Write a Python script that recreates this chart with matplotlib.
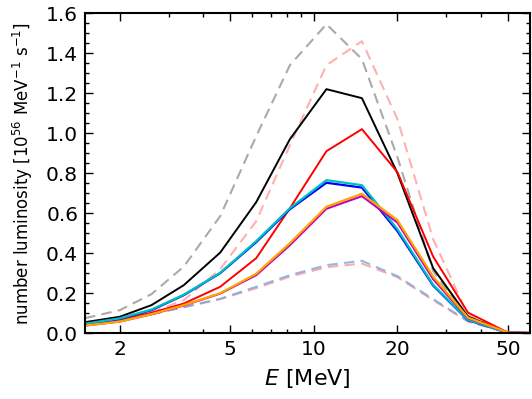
import matplotlib
matplotlib.use('Agg')
import matplotlib.pyplot as plt
import matplotlib.ticker as mticker

# energy grid [MeV] and number luminosities [1e56 /MeV/s]
energy = [1.5, 2.0, 2.6, 3.4, 4.6, 6.2, 8.2, 11.1, 14.9, 20.0, 26.9, 35.9, 50.0, 66.0]

lum_black = [0.055, 0.082, 0.14, 0.24, 0.403, 0.655, 0.97, 1.22, 1.175, 0.80, 0.325, 0.083, 0.003, 0.0]
lum_red = [0.045, 0.068, 0.102, 0.148, 0.232, 0.375, 0.625, 0.91, 1.02, 0.805, 0.383, 0.103, 0.003, 0.0]
lum_blue = [0.045, 0.072, 0.115, 0.19, 0.30, 0.455, 0.62, 0.752, 0.728, 0.51, 0.238, 0.065, 0.002, 0.0]
lum_cyan = [0.047, 0.074, 0.118, 0.192, 0.302, 0.46, 0.625, 0.765, 0.74, 0.52, 0.242, 0.067, 0.002, 0.0]
lum_orange = [0.038, 0.058, 0.095, 0.14, 0.20, 0.297, 0.45, 0.632, 0.697, 0.565, 0.283, 0.078, 0.003, 0.0]
lum_magenta = [0.038, 0.058, 0.094, 0.138, 0.198, 0.29, 0.44, 0.622, 0.685, 0.553, 0.27, 0.075, 0.003, 0.0]

# dashed comparison curves
lum_gray_dash = [0.075, 0.115, 0.195, 0.333, 0.585, 0.985, 1.34, 1.545, 1.37, 0.88, 0.31, 0.07, 0.003, 0.0]
lum_pink_dash = [0.05, 0.072, 0.105, 0.165, 0.32, 0.56, 0.94, 1.34, 1.46, 1.07, 0.47, 0.09, 0.003, 0.0]
lum_lowpink_dash = [0.045, 0.065, 0.095, 0.13, 0.17, 0.225, 0.283, 0.33, 0.348, 0.28, 0.165, 0.058, 0.003, 0.0]
lum_lowblue_dash = [0.045, 0.065, 0.095, 0.13, 0.172, 0.232, 0.29, 0.34, 0.362, 0.285, 0.17, 0.06, 0.003, 0.0]

fig = plt.figure(figsize=(5.32, 3.99), dpi=100)
ax = fig.add_axes([0.160, 0.165, 0.836, 0.802])

dash = (5, 3)
ax.plot(energy, lum_gray_dash, color='#aaaaaa', lw=1.5, dashes=dash)
ax.plot(energy, lum_pink_dash, color='#ffb0b0', lw=1.5, dashes=dash)
ax.plot(energy, lum_lowpink_dash, color='#ffaaaa', lw=1.5, dashes=dash)
ax.plot(energy, lum_lowblue_dash, color='#78a8dc', lw=1.5, dashes=dash, alpha=0.8)

ax.plot(energy, lum_black, color='black', lw=1.4)
ax.plot(energy, lum_red, color='red', lw=1.4)
ax.plot(energy, lum_blue, color='blue', lw=1.6)
ax.plot(energy, lum_cyan, color=(0, 0.75, 0.75), lw=1.6)
ax.plot(energy, lum_magenta, color=(0.75, 0, 0.75), lw=1.5)
ax.plot(energy, lum_orange, color='orange', lw=1.6)

ax.set_xscale('log')
ax.set_xlim(1.5, 60)
ax.set_ylim(0, 1.6)

ax.xaxis.set_major_locator(mticker.FixedLocator([2, 5, 10, 20, 50]))
ax.xaxis.set_major_formatter(mticker.FixedFormatter(['2', '5', '10', '20', '50']))
ax.xaxis.set_minor_locator(mticker.FixedLocator([3, 4, 6, 7, 8, 9, 30, 40]))
ax.xaxis.set_minor_formatter(mticker.NullFormatter())
ax.yaxis.set_major_locator(mticker.MultipleLocator(0.2))
ax.yaxis.set_minor_locator(mticker.MultipleLocator(0.05))
ax.yaxis.set_major_formatter(mticker.FormatStrFormatter('%.1f'))

ax.tick_params(which='both', direction='in', top=True, right=True)
ax.tick_params(which='major', length=6, width=1, labelsize=14.5, pad=5)
ax.tick_params(which='minor', length=3, width=1)
for sp in ax.spines.values():
    sp.set_linewidth(1.5)

ax.set_xlabel(r'$E$ [MeV]', fontsize=16, labelpad=6)
ax.set_ylabel(r'number luminosity [10$^{56}$ MeV$^{-1}$ s$^{-1}$]', fontsize=12, labelpad=8)

fig.savefig('out.png', dpi=100)
